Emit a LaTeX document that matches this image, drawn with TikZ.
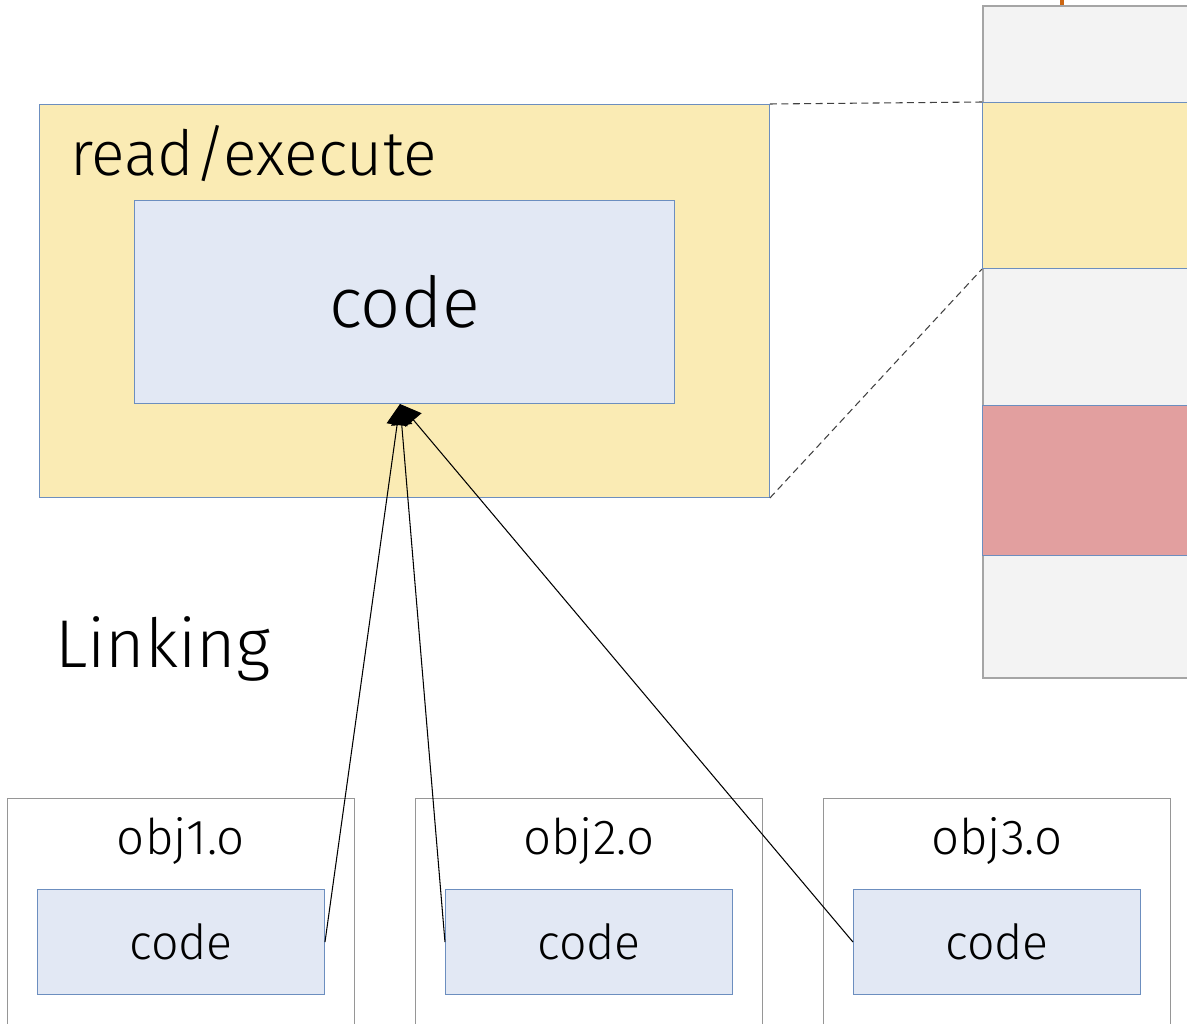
\documentclass[tikz,border=0pt]{standalone}
\usepackage{fontspec}
\setmainfont{Fira Sans Light}
\usetikzlibrary{positioning,arrows.meta}

\definecolor{execfill}{RGB}{250,235,180}
\definecolor{codefill}{RGB}{226,232,244}
\definecolor{boxline}{RGB}{108,142,191}
\definecolor{memfill}{RGB}{243,243,243}
\definecolor{memline}{RGB}{165,165,165}
\definecolor{datafill}{RGB}{226,159,159}
\definecolor{objline}{RGB}{150,150,150}
\definecolor{marker}{RGB}{204,102,17}

\begin{document}
\begin{tikzpicture}[
    x=0.02cm, y=-0.02cm,
    region/.style={
        draw=boxline,
        line width=0.6pt,
        anchor=north west,
        inner sep=0pt
    },
    segment/.style={
        region,
        minimum width=4.4cm
    },
    objfile/.style={
        draw=objline,
        fill=white,
        line width=0.6pt,
        inner sep=0pt,
        minimum width=6.94cm,
        minimum height=5cm
    },
    smallcode/.style={
        region,
        fill=codefill,
        minimum width=5.74cm,
        minimum height=2.1cm,
        font=\fontsize{27.5}{33}\selectfont
    },
    objlabel/.style={anchor=base, font=\fontsize{28}{34}\selectfont},
    link/.style={-{Triangle[length=0.42cm,width=0.42cm]}, line width=0.6pt},
    zoomline/.style={draw=black!75, line width=0.6pt, dash pattern=on 4pt off 2.5pt}
]
\clip (0,0) rectangle (1187,1024);
\useasboundingbox (0,0) rectangle (1187,1024);

% memory column on the right
\node[segment, draw=memline, line width=1pt, fill=memfill, minimum height=13.44cm] (mem) at (982,5) {};
\node[segment, fill=execfill, minimum height=3.32cm] (segexec) at (982,102) {};
\node[segment, fill=datafill, minimum height=3cm] (segdata) at (982,405) {};
\fill[marker] (1060,0) rectangle (1064,5);

% linked executable
\node[region, fill=execfill, minimum width=14.6cm, minimum height=7.86cm] (exec) at (39,104) {};
\node[anchor=base west, font=\fontsize{35.5}{42}\selectfont] (perm) at (64,175) {read/execute};
\node[region, fill=codefill, minimum width=10.8cm, minimum height=4.06cm,
      font=\fontsize{40}{48}\selectfont] (code) at (134,200) {code};
\coordinate (entry) at (400,404);

\draw[zoomline] (exec.north east) -- (segexec.north west);
\draw[zoomline] (exec.south east) -- (segexec.south west);

\node[anchor=base west, font=\fontsize{38.5}{46}\selectfont] (linking) at (49,667) {Linking};

% object files
\node[objfile, anchor=north west] (o1) at (7,798) {};
\node[objfile, right=1.2cm of o1] (o2) {};
\node[objfile, right=1.2cm of o2] (o3) {};

\node[objlabel] (l1) at ([yshift=-1.14cm]o1.north) {obj1.o};
\node[objlabel] (l2) at ([yshift=-1.14cm]o2.north) {obj2.o};
\node[objlabel] (l3) at ([yshift=-1.14cm]o3.north) {obj3.o};

\node[smallcode] (c1) at ([xshift=0.6cm,yshift=-1.82cm]o1.north west) {code};
\node[smallcode] (c2) at ([xshift=0.6cm,yshift=-1.82cm]o2.north west) {code};
\node[smallcode] (c3) at ([xshift=0.6cm,yshift=-1.82cm]o3.north west) {code};

\draw[link] (c1.east) -- (entry);
\draw[link] (c2.west) -- (entry);
\draw[link] (c3.west) -- (entry);

\end{tikzpicture}
\end{document}
